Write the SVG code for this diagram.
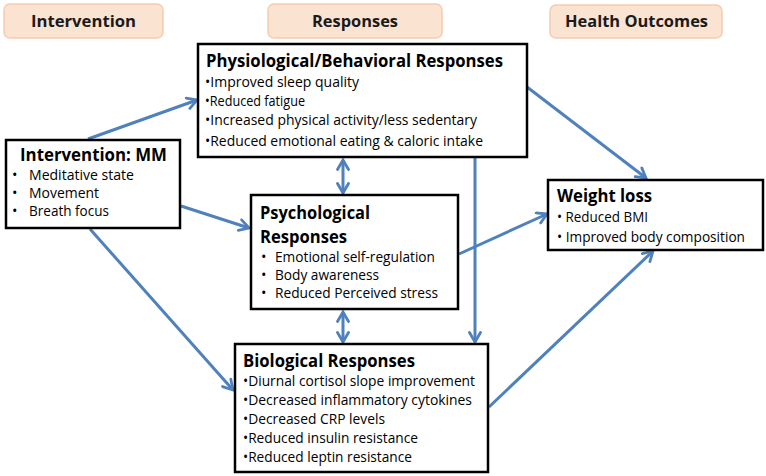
<svg xmlns="http://www.w3.org/2000/svg" width="766" height="476" viewBox="0 0 766 476">
<defs>
<style>
.hdr{fill:#FBE3D2;stroke:#F6CBAE;stroke-width:1.5}
.hdrt{font-family:"Open Sans","Liberation Sans",sans-serif;font-weight:bold;font-size:16px;fill:#1a1a1a}
.box{fill:#fff;stroke:#000;stroke-width:2.5}
.tt{font-family:"Open Sans","Liberation Sans",sans-serif;font-weight:bold;font-size:17.5px;fill:#000}
.bt{font-family:"Open Sans","Liberation Sans",sans-serif;font-size:14.5px;fill:#000}
.con{stroke:#4F81BD;stroke-width:3;fill:none}
</style>
<marker id="ah" viewBox="0 0 14 14" refX="12" refY="7" markerWidth="14" markerHeight="14" orient="auto-start-reverse" markerUnits="userSpaceOnUse">
<path d="M2.5,1.5 L12,7 L2.5,12.5" fill="none" stroke="#4F81BD" stroke-width="2.8" stroke-linecap="round"/>
</marker>
</defs>
<rect width="766" height="476" fill="#fff"/>

<g id="header-intervention">
<rect class="hdr" x="4" y="4" width="159" height="34" rx="6"/>
<text class="hdrt" x="31" y="27" textLength="105" lengthAdjust="spacingAndGlyphs">Intervention</text>
</g>
<g id="header-responses">
<rect class="hdr" x="268" y="4" width="174" height="34" rx="6"/>
<text class="hdrt" x="312" y="27" textLength="86" lengthAdjust="spacingAndGlyphs">Responses</text>
</g>
<g id="header-outcomes">
<rect class="hdr" x="550" y="5" width="172" height="33" rx="6"/>
<text class="hdrt" x="565" y="27" textLength="143" lengthAdjust="spacingAndGlyphs">Health Outcomes</text>
</g>

<g id="connectors">
<line class="con" x1="88" y1="139" x2="197" y2="100" marker-end="url(#ah)"/>
<line class="con" x1="181" y1="206" x2="249" y2="228" marker-end="url(#ah)"/>
<line class="con" x1="90" y1="229" x2="233" y2="390" marker-end="url(#ah)"/>
<line class="con" x1="343" y1="160" x2="343" y2="193" marker-start="url(#ah)" marker-end="url(#ah)"/>
<line class="con" x1="343" y1="312" x2="343" y2="342" marker-start="url(#ah)" marker-end="url(#ah)"/>
<line class="con" x1="475" y1="158" x2="475" y2="342" marker-end="url(#ah)"/>
<line class="con" x1="459" y1="254" x2="547" y2="214" marker-end="url(#ah)"/>
<line class="con" x1="527" y1="87" x2="646" y2="178" marker-end="url(#ah)"/>
<line class="con" x1="489" y1="407" x2="653" y2="251" marker-end="url(#ah)"/>
</g>

<g id="node-physiological">
<rect class="box" x="198" y="44" width="329" height="113"/>
<text class="tt" x="206" y="67" textLength="297" lengthAdjust="spacingAndGlyphs">Physiological/Behavioral Responses</text>
<text class="bt" x="205" y="87" textLength="154" lengthAdjust="spacingAndGlyphs">•Improved sleep quality</text>
<text class="bt" x="205" y="106" textLength="100" lengthAdjust="spacingAndGlyphs">•Reduced fatigue</text>
<text class="bt" x="205" y="125" textLength="272" lengthAdjust="spacingAndGlyphs">•Increased physical activity/less sedentary</text>
<text class="bt" x="205" y="146" textLength="278" lengthAdjust="spacingAndGlyphs">•Reduced emotional eating &amp; caloric intake</text>
</g>

<g id="node-intervention">
<rect class="box" x="6" y="140" width="174" height="88"/>
<text class="tt" x="20" y="161" textLength="147" lengthAdjust="spacingAndGlyphs">Intervention: MM</text>
<text class="bt" x="12" y="180">•</text>
<text class="bt" x="29" y="180" textLength="105" lengthAdjust="spacingAndGlyphs">Meditative state</text>
<text class="bt" x="12" y="198">•</text>
<text class="bt" x="29" y="198" textLength="70" lengthAdjust="spacingAndGlyphs">Movement</text>
<text class="bt" x="12" y="216">•</text>
<text class="bt" x="29" y="216" textLength="80" lengthAdjust="spacingAndGlyphs">Breath focus</text>
</g>

<g id="node-psychological">
<rect class="box" x="251" y="195" width="207" height="114"/>
<text class="tt" x="260" y="219" textLength="110" lengthAdjust="spacingAndGlyphs">Psychological</text>
<text class="tt" x="260" y="243" textLength="87" lengthAdjust="spacingAndGlyphs">Responses</text>
<text class="bt" x="261" y="262">•</text>
<text class="bt" x="275" y="262" textLength="160" lengthAdjust="spacingAndGlyphs">Emotional self-regulation</text>
<text class="bt" x="261" y="280">•</text>
<text class="bt" x="275" y="280" textLength="104" lengthAdjust="spacingAndGlyphs">Body awareness</text>
<text class="bt" x="261" y="298">•</text>
<text class="bt" x="275" y="298" textLength="163" lengthAdjust="spacingAndGlyphs">Reduced Perceived stress</text>
</g>

<g id="node-biological">
<rect class="box" x="235" y="344" width="253" height="128"/>
<text class="tt" x="243" y="367" textLength="172" lengthAdjust="spacingAndGlyphs">Biological Responses</text>
<text class="bt" x="243" y="386" textLength="232" lengthAdjust="spacingAndGlyphs">•Diurnal cortisol slope improvement</text>
<text class="bt" x="243" y="405" textLength="229" lengthAdjust="spacingAndGlyphs">•Decreased inflammatory cytokines</text>
<text class="bt" x="243" y="424" textLength="142" lengthAdjust="spacingAndGlyphs">•Decreased CRP levels</text>
<text class="bt" x="243" y="443" textLength="175" lengthAdjust="spacingAndGlyphs">•Reduced insulin resistance</text>
<text class="bt" x="243" y="462" textLength="169" lengthAdjust="spacingAndGlyphs">•Reduced leptin resistance</text>
</g>

<g id="node-weightloss">
<rect class="box" x="548" y="180" width="215" height="70"/>
<text class="tt" x="557" y="202" textLength="95" lengthAdjust="spacingAndGlyphs">Weight loss</text>
<text class="bt" x="557" y="222" textLength="91" lengthAdjust="spacingAndGlyphs">• Reduced BMI</text>
<text class="bt" x="557" y="242" textLength="188" lengthAdjust="spacingAndGlyphs">• Improved body composition</text>
</g>
</svg>
